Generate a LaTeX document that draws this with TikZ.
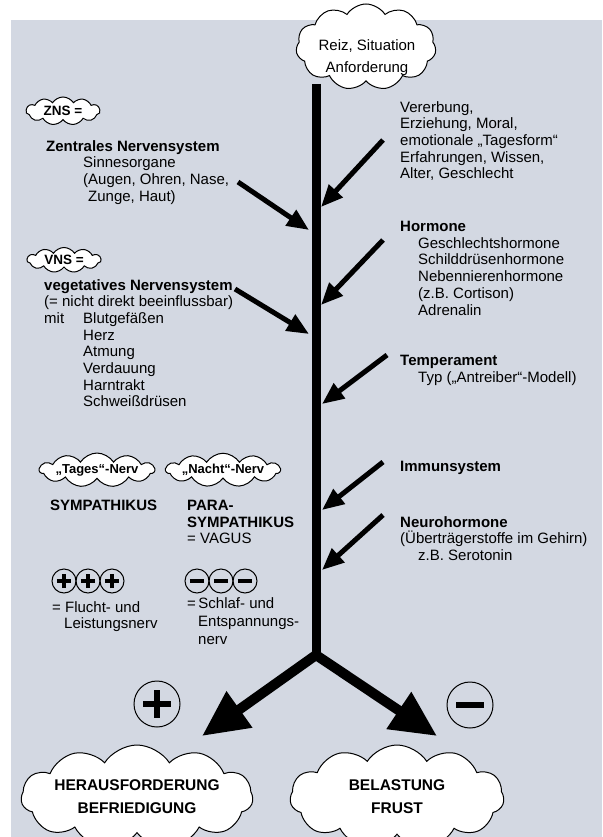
\documentclass[tikz,border=0pt]{standalone}
\usepackage{fontspec}
\setmainfont{Liberation Sans}
\usetikzlibrary{shapes.symbols,arrows.meta}
\definecolor{bgblue}{RGB}{211,216,226}
\begin{document}
\begin{tikzpicture}[x=1pt,y=-1pt]
	\tikzstyle{every node}+=[inner sep=0pt]
	\tikzstyle{txt}=[anchor=north west, align=left, font=\fontsize{15}{16.7}\selectfont]
	\tikzstyle{wolke}=[cloud, draw=black, fill=white, line width=1pt, cloud puffs=11, cloud puff arc=115, cloud ignores aspect, align=center]
	\tikzstyle{stiel}=[line width=9pt, black]
	\tikzstyle{zufluss}=[line width=5pt, -{Triangle[length=22pt,width=18pt]}]
	\tikzstyle{ast}=[line width=10pt, -{Triangle[length=46pt,width=42pt]}]
	\tikzset{plus/.style={circle, draw=black, line width=1pt, minimum size=#1,
		path picture={\draw[line width=0.13*#1] ([xshift=-0.3*#1]path picture bounding box.center) -- ([xshift=0.3*#1]path picture bounding box.center)
			([yshift=-0.3*#1]path picture bounding box.center) -- ([yshift=0.3*#1]path picture bounding box.center);}},
		minus/.style={circle, draw=black, line width=1pt, minimum size=#1,
		path picture={\draw[line width=0.13*#1] ([xshift=-0.3*#1]path picture bounding box.center) -- ([xshift=0.3*#1]path picture bounding box.center);}}}
	\useasboundingbox (0,0) rectangle (602,837);
	\fill [bgblue] (11,20) rectangle (602,837);
	% Stamm mit Gabel
	\coordinate (gabel) at (316,655);
	\coordinate (stamm) at (316,84);
	\draw [stiel] (stamm) -- (gabel);
	\node [wolke, minimum width=140pt, minimum height=86pt] (reiz) at (366,47) {};
	\node [align=center, font=\fontsize{15}{22}\selectfont] (reiztext) at (367,58) {Reiz, Situation\\Anforderung};
	\node [wolke, minimum width=212pt, minimum height=104pt, font=\fontsize{15.5}{23}\selectfont\bfseries] (positiv) at (137,797) {HERAUSFORDERUNG\\BEFRIEDIGUNG};
	\node [wolke, minimum width=214pt, minimum height=104pt, font=\fontsize{15.5}{23}\selectfont\bfseries] (negativ) at (397,797) {BELASTUNG\\FRUST};
	\coordinate (linksspitze) at (202,736);
	\coordinate (rechtsspitze) at (437,736);
	\draw [ast] (gabel) -- (linksspitze);
	\draw [ast] (gabel) -- (rechtsspitze);
	\node [plus=46pt] (grossplus) at (157,704) {};
	\node [minus=46pt] (grossminus) at (470,705) {};
	% rechte Seite
	\node [txt] (erbe) at (400,101) {Vererbung,\\Erziehung, Moral,\\emotionale „Tagesform“\\Erfahrungen, Wissen,\\Alter, Geschlecht};
	\node [txt] (hormone) at (400,221) {\textbf{Hormone}\\\hspace*{18pt}Geschlechtshormone\\\hspace*{18pt}Schilddrüsenhormone\\\hspace*{18pt}Nebennierenhormone\\\hspace*{18pt}(z.B. Cortison)\\\hspace*{18pt}Adrenalin};
	\node [txt] (temperament) at (400,355) {\textbf{Temperament}\\\hspace*{18pt}Typ („Antreiber“-Modell)};
	\node [txt] (immun) at (400,461) {\textbf{Immunsystem}};
	\node [txt] (neuro) at (400,516) {\textbf{Neurohormone}\\(Überträgerstoffe im Gehirn)\\\hspace*{18pt}z.B. Serotonin};
	\coordinate (erbe0) at (383,140);
	\coordinate (erbe1) at (321,207);
	\coordinate (hormone0) at (383,240);
	\coordinate (hormone1) at (321,305);
	\coordinate (temperament0) at (387,355);
	\coordinate (temperament1) at (322,404);
	\coordinate (immun0) at (383,462);
	\coordinate (immun1) at (322,510);
	\coordinate (neuro0) at (383,515);
	\coordinate (neuro1) at (322,570);
	\draw [zufluss] (erbe0) -- (erbe1);
	\draw [zufluss] (hormone0) -- (hormone1);
	\draw [zufluss] (temperament0) -- (temperament1);
	\draw [zufluss] (immun0) -- (immun1);
	\draw [zufluss] (neuro0) -- (neuro1);
	% linke Seite
	\node [wolke, minimum width=74pt, minimum height=28pt, font=\fontsize{13.5}{15}\selectfont\bfseries] (zns) at (63,111) {ZNS =};
	\node [txt] (zentral) at (46,140) {\textbf{Zentrales Nervensystem}\\\hspace*{37pt}Sinnesorgane\\\hspace*{37pt}(Augen, Ohren, Nase,\\\hspace*{42pt}Zunge, Haut)};
	\node [wolke, minimum width=74pt, minimum height=25pt, font=\fontsize{13.5}{15}\selectfont\bfseries] (vns) at (64,260) {VNS =};
	\node [txt] (vegetativ) at (44,279) {\textbf{vegetatives Nervensystem}\\(= nicht direkt beeinflussbar)\\\makebox[39pt][l]{mit}Blutgefäßen\\\hspace*{39pt}Herz\\\hspace*{39pt}Atmung\\\hspace*{39pt}Verdauung\\\hspace*{39pt}Harntrakt\\\hspace*{39pt}Schweißdrüsen};
	\coordinate (zentral0) at (238,182);
	\coordinate (zentral1) at (309,230);
	\coordinate (vegetativ0) at (235,289);
	\coordinate (vegetativ1) at (309,334);
	\draw [zufluss] (zentral0) -- (zentral1);
	\draw [zufluss] (vegetativ0) -- (vegetativ1);
	% Sympathikus / Parasympathikus
	\node [wolke, minimum width=108pt, minimum height=32pt, font=\fontsize{13}{15}\selectfont\bfseries] (tag) at (97,470) {„Tages“-Nerv};
	\node [wolke, minimum width=108pt, minimum height=32pt, font=\fontsize{13}{15}\selectfont\bfseries] (nacht) at (223,470) {„Nacht“-Nerv};
	\node [txt] (sympath) at (50,500) {\textbf{SYMPATHIKUS}};
	\node [txt] (parasympath) at (187,500) {\textbf{PARA-}\\\textbf{SYMPATHIKUS}\\= VAGUS};
	\node [plus=24pt] (p1) at (64,581) {};
	\node [plus=24pt] (p2) at (88,581) {};
	\node [plus=24pt] (p3) at (112,581) {};
	\node [minus=24pt] (m1) at (197,581) {};
	\node [minus=24pt] (m2) at (221,581) {};
	\node [minus=24pt] (m3) at (245,581) {};
	\node [txt, font=\fontsize{15}{16}\selectfont] (flucht) at (52,601) {= Flucht- und\\\hspace*{12pt}Leistungsnerv};
	\node [txt, font=\fontsize{15}{18}\selectfont] (schlaf) at (187,597) {=\,Schlaf- und\\\hspace*{11pt}Entspannungs-\\\hspace*{11pt}nerv};
\end{tikzpicture}
\end{document}
